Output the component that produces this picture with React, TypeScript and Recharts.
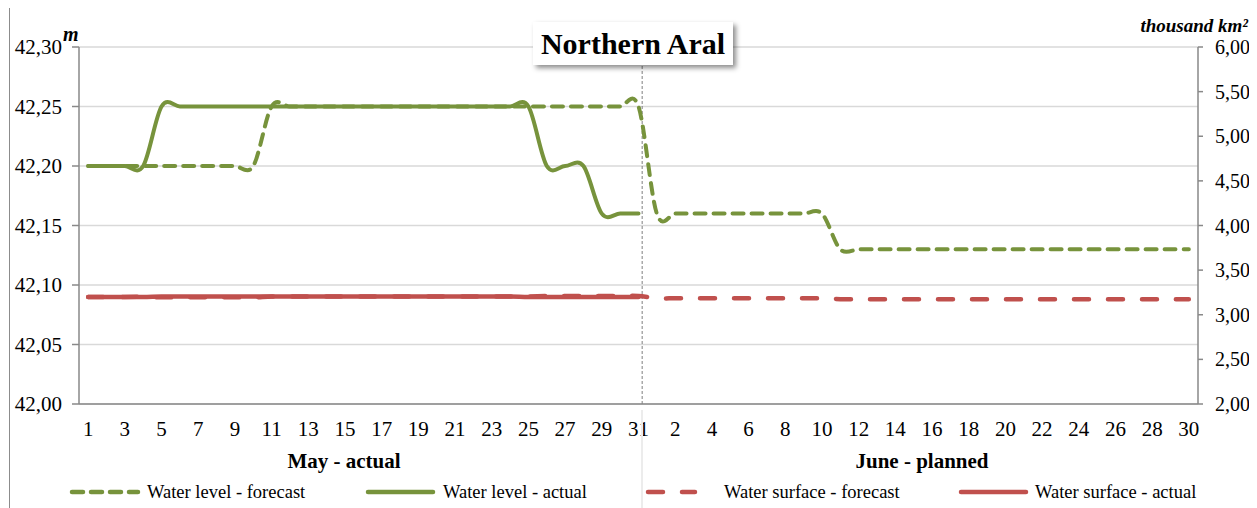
import {
  LineChart,
  Line,
  XAxis,
  YAxis,
  CartesianGrid,
  ReferenceLine,
} from 'recharts'

const mayDays = [1, 2, 3, 4, 5, 6, 7, 8, 9, 10, 11, 12, 13, 14, 15, 16, 17, 18, 19, 20, 21, 22, 23, 24, 25, 26, 27, 28, 29, 30, 31]
const juneDays = [1, 2, 3, 4, 5, 6, 7, 8, 9, 10, 11, 12, 13, 14, 15, 16, 17, 18, 19, 20, 21, 22, 23, 24, 25, 26, 27, 28, 29, 30]

// water level, m (left axis)
const levelForecast = [
  42.2, 42.2, 42.2, 42.2, 42.2, 42.2, 42.2, 42.2, 42.2, 42.2,
  42.25, 42.25, 42.25, 42.25, 42.25, 42.25, 42.25, 42.25, 42.25, 42.25, 42.25,
  42.25, 42.25, 42.25, 42.25, 42.25, 42.25, 42.25, 42.25, 42.25, 42.25,
  42.16, 42.16, 42.16, 42.16, 42.16, 42.16, 42.16, 42.16, 42.16, 42.16,
  42.13, 42.13, 42.13, 42.13, 42.13, 42.13, 42.13, 42.13, 42.13, 42.13,
  42.13, 42.13, 42.13, 42.13, 42.13, 42.13, 42.13, 42.13, 42.13, 42.13,
]
const levelActual = [
  42.2, 42.2, 42.2, 42.2,
  42.25, 42.25, 42.25, 42.25, 42.25, 42.25, 42.25, 42.25, 42.25, 42.25, 42.25,
  42.25, 42.25, 42.25, 42.25, 42.25, 42.25, 42.25, 42.25, 42.25, 42.25,
  42.2, 42.2, 42.2,
  42.16, 42.16, 42.16,
]

// water surface, thousand km2 (right axis)
const surfaceForecast = [
  3.2, 3.2, 3.2, 3.2, 3.195, 3.195, 3.195, 3.195, 3.195, 3.195,
  3.205, 3.205, 3.205, 3.205, 3.205, 3.205, 3.205, 3.205, 3.205, 3.205,
  3.205, 3.205, 3.205, 3.205, 3.205, 3.21, 3.21, 3.21, 3.21, 3.21, 3.21,
  3.185, 3.185, 3.185, 3.185, 3.185, 3.185, 3.185, 3.185, 3.185, 3.185,
  3.175, 3.175, 3.175, 3.175, 3.175, 3.175, 3.175, 3.175, 3.175, 3.175,
  3.175, 3.175, 3.175, 3.175, 3.175, 3.175, 3.175, 3.175, 3.175, 3.175,
]
const surfaceActual = [
  3.2, 3.2, 3.2, 3.2,
  3.205, 3.205, 3.205, 3.205, 3.205, 3.205, 3.205, 3.205, 3.205, 3.205,
  3.205, 3.205, 3.205, 3.205, 3.205, 3.205, 3.205, 3.205, 3.205, 3.205,
  3.2, 3.2, 3.2, 3.2, 3.2, 3.2, 3.2,
]

const levelTicks = [42, 42.05, 42.1, 42.15, 42.2, 42.25, 42.3]
const surfaceTicks = [2, 2.5, 3, 3.5, 4, 4.5, 5, 5.5, 6]

const GREEN = '#77933c'
const RED = '#c0504d'
const AXIS = '#898989'
const FONT = '"Liberation Serif", "Times New Roman", serif'

const dayLabels = [...mayDays, ...juneDays]
const data = dayLabels.map((d, i) => ({
  x: i + 1,
  day: d,
  levelForecast: levelForecast[i],
  levelActual: i < levelActual.length ? levelActual[i] : null,
  surfaceForecast: surfaceForecast[i],
  surfaceActual: i < surfaceActual.length ? surfaceActual[i] : null,
}))
const boundaryTicks = [...dayLabels.map((_, i) => i + 0.5), dayLabels.length + 0.5]
const labelTicks = dayLabels.map((_, i) => i + 1).filter((v) => v % 2 === 1)
const xDomain = [0.5, dayLabels.length + 0.5]

const comma = (v: number) => v.toFixed(2).replace('.', ',')

// Excel-like smoothed line (Catmull-Rom through the points)
const excelSmooth = (context: any) => {
  let pts: number[][] = []
  return {
    areaStart() {},
    areaEnd() {},
    lineStart() {
      pts = []
    },
    point(x: number, y: number) {
      pts.push([+x, +y])
    },
    lineEnd() {
      const n = pts.length
      if (!n) return
      context.moveTo(pts[0][0], pts[0][1])
      for (let i = 0; i < n - 1; i++) {
        const p0 = pts[i > 0 ? i - 1 : i]
        const p1 = pts[i]
        const p2 = pts[i + 1]
        const p3 = pts[i + 2 < n ? i + 2 : i + 1]
        context.bezierCurveTo(
          p1[0] + (p2[0] - p0[0]) / 6,
          p1[1] + (p2[1] - p0[1]) / 6,
          p2[0] - (p3[0] - p1[0]) / 6,
          p2[1] - (p3[1] - p1[1]) / 6,
          p2[0],
          p2[1],
        )
      }
    },
  }
}

const legendItems = [
  { label: 'Water level - forecast', color: GREEN, dash: '11 8', x: 60, len: 70, tx: 137 },
  { label: 'Water level - actual', color: GREEN, dash: undefined, x: 356, len: 69, tx: 433 },
  { label: 'Water surface - forecast', color: RED, dash: '15 19', x: 636, len: 51, tx: 714 },
  { label: 'Water surface - actual', color: RED, dash: undefined, x: 949, len: 69, tx: 1025 },
]

export default function App() {
  return (
    <div
      style={{
        position: 'relative',
        width: 1245,
        height: 510,
        marginTop: -1,
        marginLeft: 1,
        border: '1px solid #8c8c8c',
        background: '#fff',
        fontFamily: FONT,
      }}
    >
      <style>{'html,body{overflow:hidden}'}</style>
      <LineChart
        width={1245}
        height={500}
        data={data}
        margin={{ top: 39, right: 0, bottom: 59, left: 0 }}
        style={{ overflow: 'visible' }}
      >
        <CartesianGrid vertical={false} stroke="#d9d9d9" strokeWidth={1.5} xAxisId="d" yAxisId="left" />
        <XAxis
          xAxisId="b"
          dataKey="x"
          type="number"
          domain={xDomain}
          ticks={boundaryTicks}
          tick={false}
          tickSize={5}
          height={5}
          stroke={AXIS}
          strokeWidth={1.5}
        />
        <XAxis
          xAxisId="d"
          dataKey="x"
          type="number"
          domain={xDomain}
          ticks={labelTicks}
          interval={0}
          axisLine={false}
          tickLine={false}
          tickSize={0}
          tickMargin={12}
          height={40}
          tickFormatter={(v: number) => String(dayLabels[v - 1])}
          tick={{ fontSize: 21, fill: '#000', fontFamily: FONT }}
        />
        <YAxis
          yAxisId="left"
          domain={[42, 42.3]}
          ticks={levelTicks}
          interval={0}
          width={69}
          tickSize={7}
          tickMargin={10}
          stroke={AXIS}
          strokeWidth={1.5}
          tickFormatter={comma}
          tick={{ fontSize: 21, fill: '#000', fontFamily: FONT }}
        />
        <YAxis
          yAxisId="right"
          orientation="right"
          domain={[2, 6]}
          ticks={surfaceTicks}
          interval={0}
          width={57}
          tickSize={5}
          tickMargin={12}
          stroke={AXIS}
          strokeWidth={1.5}
          tickFormatter={comma}
          tick={{ fontSize: 20, fill: '#000', fontFamily: FONT }}
        />
        <ReferenceLine x={31.2} xAxisId="d" yAxisId="left" stroke="#7f7f7f" strokeDasharray="3 2" />
        <Line
          xAxisId="d"
          yAxisId="left"
          dataKey="levelForecast"
          type={excelSmooth as any}
          stroke={GREEN}
          strokeWidth={4}
          strokeDasharray="11 8"
          strokeLinecap="round"
          dot={false}
          activeDot={false}
          isAnimationActive={false}
        />
        <Line
          xAxisId="d"
          yAxisId="left"
          dataKey="levelActual"
          type={excelSmooth as any}
          stroke={GREEN}
          strokeWidth={4}
          strokeLinecap="round"
          dot={false}
          activeDot={false}
          isAnimationActive={false}
        />
        <Line
          xAxisId="d"
          yAxisId="right"
          dataKey="surfaceForecast"
          type={excelSmooth as any}
          stroke={RED}
          strokeWidth={4.5}
          strokeDasharray="15 19"
          strokeLinecap="round"
          dot={false}
          activeDot={false}
          isAnimationActive={false}
        />
        <Line
          xAxisId="d"
          yAxisId="right"
          dataKey="surfaceActual"
          type={excelSmooth as any}
          stroke={RED}
          strokeWidth={4.5}
          strokeLinecap="round"
          dot={false}
          activeDot={false}
          isAnimationActive={false}
        />
      </LineChart>

      {/* title box */}
      <div
        style={{
          position: 'absolute',
          left: 523,
          top: 14,
          width: 200,
          height: 43,
          background: '#fff',
          boxShadow: '3px 3px 5px rgba(0,0,0,0.45)',
          textAlign: 'center',
          fontWeight: 'bold',
          fontSize: 30,
          lineHeight: '43px',
        }}
      >
        Northern Aral
      </div>

      {/* units */}
      <div style={{ position: 'absolute', left: 53, top: 16, fontSize: 20, lineHeight: 1, fontWeight: 'bold', fontStyle: 'italic' }}>
        m
      </div>
      <div style={{ position: 'absolute', right: 7, top: 8, fontSize: 19, lineHeight: 1, fontWeight: 'bold', fontStyle: 'italic' }}>
        thousand km²
      </div>

      {/* month captions */}
      <div style={{ position: 'absolute', left: 234, width: 200, top: 443, textAlign: 'center', fontSize: 21, lineHeight: 1, fontWeight: 'bold' }}>
        May - actual
      </div>
      <div style={{ position: 'absolute', left: 812, width: 200, top: 443, textAlign: 'center', fontSize: 21, lineHeight: 1, fontWeight: 'bold' }}>
        June - planned
      </div>
      <div style={{ position: 'absolute', left: 631, top: 402, width: 2, height: 110, background: '#ececec' }} />

      {/* legend */}
      <svg style={{ position: 'absolute', left: 0, top: 470 }} width={1245} height={30}>
        {legendItems.map((it) => (
          <g key={it.label}>
            <line
              x1={it.x + 2}
              x2={it.x + it.len - 2}
              y1={14}
              y2={14}
              stroke={it.color}
              strokeWidth={4.5}
              strokeDasharray={it.dash}
              strokeLinecap="round"
            />
            <text x={it.tx} y={19.5} fontSize={18.5} fontFamily={FONT} fill="#000">
              {it.label}
            </text>
          </g>
        ))}
      </svg>
    </div>
  )
}
